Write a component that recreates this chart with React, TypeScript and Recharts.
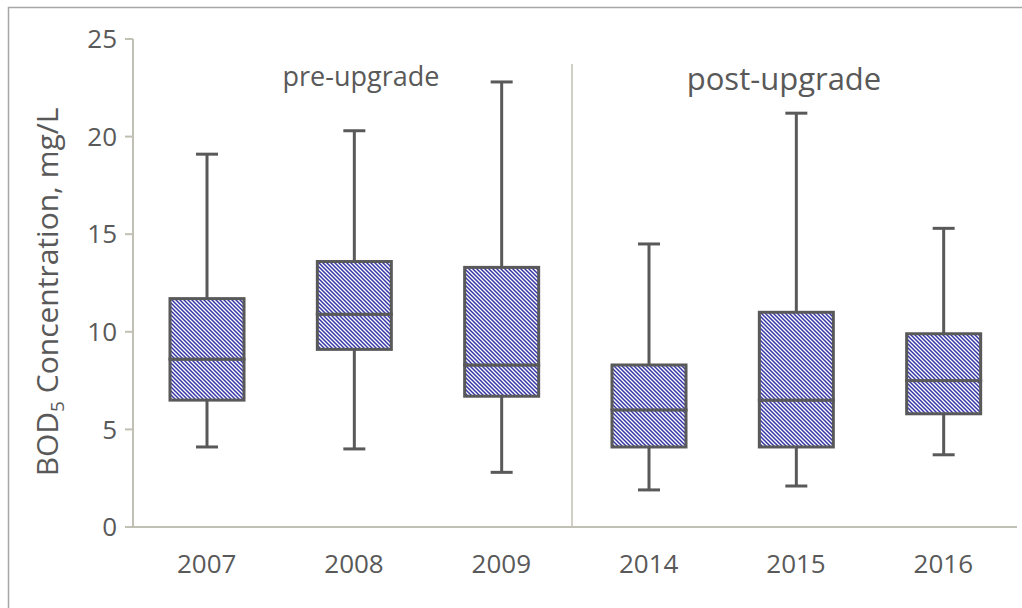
import React from "react";
import { ComposedChart, Bar, XAxis, YAxis } from "recharts";

const years = ["2007", "2008", "2009", "2014", "2015", "2016"];
const mins = [4.1, 4.0, 2.8, 1.9, 2.1, 3.7];
const q1s = [6.5, 9.1, 6.7, 4.1, 4.1, 5.8];
const medians = [8.6, 10.9, 8.3, 6.0, 6.5, 7.5];
const q3s = [11.7, 13.6, 13.3, 8.3, 11.0, 9.9];
const maxs = [19.1, 20.3, 22.8, 14.5, 21.2, 15.3];
const yTicks = [0, 5, 10, 15, 20, 25];

// stacked segments: base -> lower whisker -> lower box -> upper box -> upper whisker
const rows = years.map((year, i) => ({
  year,
  base: mins[i],
  lowWhisker: q1s[i] - mins[i],
  lowBox: medians[i] - q1s[i],
  highBox: q3s[i] - medians[i],
  highWhisker: maxs[i] - q3s[i],
}));

const INK = "#595959";
const AXIS = "#c0c0b4";
const HATCH = "#3535a6";
const FONT = "'Open Sans', sans-serif";
const CAP = 22;

const LowWhisker = (p: any) => {
  const cx = p.x + p.width / 2;
  const bottom = p.y + p.height;
  return (
    <g stroke={INK} strokeWidth={3}>
      <line x1={cx} x2={cx} y1={p.y} y2={bottom} />
      <line x1={cx - CAP / 2} x2={cx + CAP / 2} y1={bottom} y2={bottom} />
    </g>
  );
};

const HighWhisker = (p: any) => {
  const cx = p.x + p.width / 2;
  return (
    <g stroke={INK} strokeWidth={3}>
      <line x1={cx} x2={cx} y1={p.y} y2={p.y + p.height} />
      <line x1={cx - CAP / 2} x2={cx + CAP / 2} y1={p.y} y2={p.y} />
    </g>
  );
};

const BoxPart = (p: any) => (
  <rect x={p.x} y={p.y} width={p.width} height={p.height}
    fill="url(#hatch)" stroke={INK} strokeWidth={3} />
);

export default function App() {
  return (
    <div style={{ position: "absolute", left: 0, top: 0, width: 1022, height: 608, background: "#fff", fontFamily: FONT }}>
      <ComposedChart width={1022} height={608} data={rows}
        margin={{ top: 39, right: 5, bottom: 0, left: 0 }}>
        <defs>
          <pattern id="hatch" patternUnits="userSpaceOnUse" width={4} height={4}>
            <rect width={4} height={4} fill="#ffffff" />
            <path d="M-1,3 l2,2 M0,0 l4,4 M3,-1 l2,2" stroke={HATCH} strokeWidth={1.5} />
          </pattern>
        </defs>
        <XAxis dataKey="year" height={81} axisLine={{ stroke: AXIS, strokeWidth: 2 }}
          tickLine={false} tickSize={0} tickMargin={28}
          tick={{ fill: INK, fontSize: 26, fontFamily: FONT }} />
        <YAxis domain={[0, 25]} ticks={yTicks} width={133}
          axisLine={{ stroke: AXIS, strokeWidth: 2 }} tickLine={{ stroke: AXIS, strokeWidth: 2 }}
          tickSize={8} tickMargin={8} tick={{ fill: INK, fontSize: 26, fontFamily: FONT }} />
        <Bar dataKey="base" stackId="b" fill="transparent" barSize={74} isAnimationActive={false} />
        <Bar dataKey="lowWhisker" stackId="b" shape={LowWhisker} barSize={74} isAnimationActive={false} />
        <Bar dataKey="lowBox" stackId="b" shape={BoxPart} barSize={74} isAnimationActive={false} />
        <Bar dataKey="highBox" stackId="b" shape={BoxPart} barSize={74} isAnimationActive={false} />
        <Bar dataKey="highWhisker" stackId="b" shape={HighWhisker} barSize={74} isAnimationActive={false} />
      </ComposedChart>
      <svg width={1022} height={608} style={{ position: "absolute", left: 0, top: 0, pointerEvents: "none" }}>
        <rect x={8.5} y={7.5} width={1100} height={700} fill="none" stroke="#a6a6a6" strokeWidth={1.5} />
        <line x1={572} x2={572} y1={64} y2={527} stroke={AXIS} strokeWidth={1.5} />
        <text x={361} y={86} textAnchor="middle" fontSize={27} fill={INK} fontFamily={FONT}>pre-upgrade</text>
        <text x={784} y={90} textAnchor="middle" fontSize={31} fill={INK} fontFamily={FONT}>post-upgrade</text>
        <text transform="translate(58,292) rotate(-90)" textAnchor="middle" fontSize={30} fill={INK} fontFamily={FONT}>
          BOD<tspan fontSize={19} dy={6}>5</tspan><tspan dy={-6}> Concentration, mg/L</tspan>
        </text>
      </svg>
    </div>
  );
}
